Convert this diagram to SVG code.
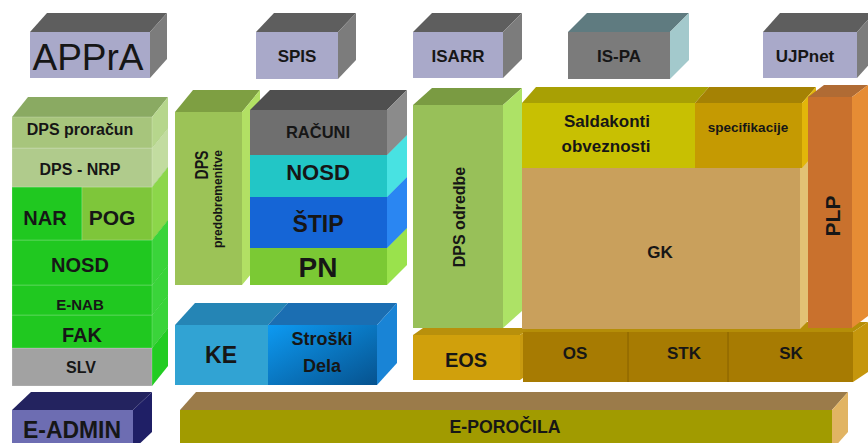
<svg xmlns="http://www.w3.org/2000/svg" width="868" height="443" viewBox="0 0 868 443">
<defs>
<style>
.t{font-family:"Liberation Sans",Arial,sans-serif;font-weight:bold;fill:#161616;text-anchor:middle}
.n{font-weight:normal}
.f{stroke:#ffffff;stroke-opacity:0.25;stroke-width:0.8}
</style>
<linearGradient id="gStr" x1="0" y1="0" x2="1" y2="1">
<stop offset="0" stop-color="#0d9af2"/>
<stop offset="1" stop-color="#06528e"/>
</linearGradient>
</defs>
<rect width="868" height="443" fill="#ffffff"/>

<!-- top row -->
<g id="appra">
<polygon points="30,32 47,13 167,13 150,32" fill="#5e5e5e"/>
<polygon points="150,32 167,13 167,59 150,78" fill="#7c7c7c"/>
<rect x="30" y="32" width="120" height="46" fill="#a9a9c9"/>
<text class="t n" x="88" y="70" font-size="37">APPrA</text>
</g>
<g id="spis">
<polygon points="256,32 274,13 356,13 338,32" fill="#5e5e5e"/>
<polygon points="338,32 356,13 356,60 338,79" fill="#7c7c7c"/>
<rect x="256" y="32" width="82" height="47" fill="#a9a9c9"/>
<text class="t" x="297" y="62" font-size="17">SPIS</text>
</g>
<g id="isarr">
<polygon points="413,32 432,13 522,13 503,32" fill="#5e5e5e"/>
<polygon points="503,32 522,13 522,59 503,78" fill="#7c7c7c"/>
<rect x="413" y="32" width="90" height="46" fill="#a9a9c9"/>
<text class="t" x="458" y="62" font-size="17">ISARR</text>
</g>
<g id="ispa">
<polygon points="568,32 587,13 689,13 670,32" fill="#5f7b80"/>
<polygon points="670,32 689,13 689,60 670,79" fill="#a3c9cc"/>
<rect x="568" y="32" width="102" height="47" fill="#7b7b7b"/>
<text class="t" x="619" y="62" font-size="17">IS-PA</text>
</g>
<g id="ujpnet">
<polygon points="763,32 780,13 874,13 857,32" fill="#5e5e5e"/>
<polygon points="857,32 874,13 874,59 857,78" fill="#7c7c7c"/>
<rect x="763" y="32" width="94" height="46" fill="#a9a9c9"/>
<text class="t" x="805" y="62" font-size="17">UJPnet</text>
</g>

<!-- left column, bottom to top -->
<g id="slv">
<polygon points="12,348 28,328 168,328 152,348" fill="#888888"/>
<polygon points="152,348 168,328 168,366 152,386" fill="#22cc22"/>
<rect class="f" x="12" y="348" width="140" height="38" fill="#a2a2a2"/>
<text class="t" x="81" y="373" font-size="16">SLV</text>
</g>
<g id="fak">
<polygon points="12,315 28,295 168,295 152,315" fill="#18a818"/>
<polygon points="152,315 168,295 168,328 152,348" fill="#3ad43a"/>
<rect class="f" x="12" y="315" width="140" height="33" fill="#20c820"/>
<text class="t" x="82" y="342" font-size="20">FAK</text>
</g>
<g id="enab">
<polygon points="12,285 28,265 168,265 152,285" fill="#18a818"/>
<polygon points="152,285 168,265 168,295 152,315" fill="#3ad43a"/>
<rect class="f" x="12" y="285" width="140" height="30" fill="#20c820"/>
<text class="t" x="80" y="310" font-size="15">E-NAB</text>
</g>
<g id="nosd-left">
<polygon points="12,240 28,220 168,220 152,240" fill="#18a818"/>
<polygon points="152,240 168,220 168,265 152,285" fill="#3ad43a"/>
<rect class="f" x="12" y="240" width="140" height="45" fill="#20c820"/>
<text class="t" x="80" y="272" font-size="20">NOSD</text>
</g>
<g id="nar-pog">
<polygon points="12,187 28,167 168,167 152,187" fill="#18a818"/>
<polygon points="152,187 168,167 168,220 152,240" fill="#8cd64a"/>
<rect class="f" x="12" y="187" width="70" height="53" fill="#20c820"/>
<rect class="f" x="82" y="187" width="70" height="53" fill="#7ec63a"/>
<text class="t" x="45" y="225" font-size="20">NAR</text>
<text class="t" x="112" y="225" font-size="21">POG</text>
</g>
<g id="dps-nrp">
<polygon points="12,148 28,128 168,128 152,148" fill="#98b474"/>
<polygon points="152,148 168,128 168,167 152,187" fill="#c2dca0"/>
<rect class="f" x="12" y="148" width="140" height="39" fill="#b0cb8c"/>
<text class="t" x="80" y="175" font-size="16">DPS - NRP</text>
</g>
<g id="dps-proracun">
<polygon points="12,117 28,97 168,97 152,117" fill="#8aaa62"/>
<polygon points="152,117 168,97 168,128 152,148" fill="#b6d68c"/>
<rect class="f" x="12" y="117" width="140" height="31" fill="#a7c57c"/>
<text class="t" x="80" y="135" font-size="16">DPS proračun</text>
</g>
<g id="e-admin">
<polygon points="12,410 31,392 152,392 133,410" fill="#23235f"/>
<polygon points="133,410 152,392 152,432 133,450" fill="#1f1f66"/>
<rect x="12" y="410" width="121" height="40" fill="#6d6db2"/>
<text class="t" x="72" y="438" font-size="24" textLength="98" lengthAdjust="spacingAndGlyphs">E-ADMIN</text>
</g>

<!-- centre column -->
<g id="dps-predobremenitve">
<polygon points="175,112 193,90 260,90 242,112" fill="#7e9f42"/>
<polygon points="242,112 260,90 260,263 242,285" fill="#b2e064"/>
<rect x="175" y="112" width="67" height="173" fill="#9cc357"/>
<text class="t" transform="translate(208,165) rotate(-90)" font-size="19" textLength="29" lengthAdjust="spacingAndGlyphs">DPS</text>
<text class="t" transform="translate(222,199) rotate(-90)" font-size="12.5" textLength="98" lengthAdjust="spacingAndGlyphs">predobremenitve</text>
</g>
<g id="pn">
<polygon points="250,248 270,228 407,228 387,248" fill="#5ea820"/>
<polygon points="387,248 407,228 407,265 387,285" fill="#9ae24c"/>
<rect x="250" y="248" width="137" height="37" fill="#7bc934"/>
<text class="t" x="318" y="277" font-size="28">PN</text>
</g>
<g id="stip">
<polygon points="250,197 270,177 407,177 387,197" fill="#0f4eb0"/>
<polygon points="387,197 407,177 407,228 387,248" fill="#2a86f2"/>
<rect x="250" y="197" width="137" height="51" fill="#1565d6"/>
<text class="t" x="318" y="232" font-size="23">ŠTIP</text>
</g>
<g id="nosd-centre">
<polygon points="250,155 270,135 407,135 387,155" fill="#1aa8a8"/>
<polygon points="387,155 407,135 407,177 387,197" fill="#48e2e2"/>
<rect x="250" y="155" width="137" height="42" fill="#22c6c6"/>
<text class="t" x="318" y="180" font-size="22">NOSD</text>
</g>
<g id="racuni">
<polygon points="250,110 270,90 407,90 387,110" fill="#4f4f4f"/>
<polygon points="387,110 407,90 407,135 387,155" fill="#8b8b8b"/>
<rect x="250" y="110" width="137" height="45" fill="#6f6f6f"/>
<text class="t" x="318" y="138" font-size="16.5">RAČUNI</text>
</g>
<g id="ke">
<polygon points="175,325 195,303 288,303 268,325" fill="#2585b5"/>
<rect x="175" y="325" width="93" height="60" fill="#31a3d3"/>
<text class="t" x="221" y="363" font-size="23" fill="#0c1a2a">KE</text>
</g>
<g id="stroski-dela">
<polygon points="268,325 288,303 397,303 377,325" fill="#1b6eb2"/>
<polygon points="377,325 397,303 397,363 377,385" fill="#1984d6"/>
<rect x="268" y="325" width="109" height="60" fill="url(#gStr)"/>
<text class="t" x="322" y="345" font-size="18">Stroški</text>
<text class="t" x="322" y="372" font-size="18">Dela</text>
</g>

<!-- right part -->
<g id="dps-odredbe">
<polygon points="413,105 432,88 522,88 503,105" fill="#7a9b42"/>
<polygon points="503,105 522,88 522,311 503,328" fill="#ade266"/>
<rect x="413" y="105" width="90" height="223" fill="#98c059"/>
<text class="t" transform="translate(465,217) rotate(-90)" font-size="16">DPS odredbe</text>
</g>
<g id="eos">
<polygon points="413,335 423,328 530,328 520,335" fill="#b8900c"/>
<polygon points="520,335 530,328 530,373 520,380" fill="#c89a10"/>
<rect x="413" y="335" width="107" height="45" fill="#d0a00c"/>
<text class="t" x="466" y="367" font-size="20">EOS</text>
</g>
<g id="os-stk-sk">
<polygon points="523,332 538,322 868,322 853,332" fill="#b58e08"/>
<polygon points="853,332 868,322 868,372 853,382" fill="#c5960c"/>
<rect x="523" y="332" width="330" height="50" fill="#a77b02"/>
<line x1="628" y1="332" x2="628" y2="382" stroke="#8c6600" stroke-width="1.2"/>
<line x1="728" y1="332" x2="728" y2="382" stroke="#8c6600" stroke-width="1.2"/>
<text class="t" x="575" y="359" font-size="17">OS</text>
<text class="t" x="684" y="359" font-size="17">STK</text>
<text class="t" x="791" y="359" font-size="17">SK</text>
</g>
<g id="gk">
<polygon points="800,168 808,160 808,321 800,329" fill="#e2c274"/>
<rect x="522" y="168" width="278" height="161" fill="#c9a05c"/>
<text class="t" x="660" y="258" font-size="17">GK</text>
</g>
<g id="saldakonti">
<polygon points="522,103 536,87 709,87 695,103" fill="#a8a004"/>
<rect x="522" y="103" width="173" height="65" fill="#c8c002"/>
<text class="t" x="607" y="127" font-size="17">Saldakonti</text>
<text class="t" x="606" y="152" font-size="17">obveznosti</text>
</g>
<g id="specifikacije">
<polygon points="695,103 709,87 816,87 802,103" fill="#a58204"/>
<polygon points="802,103 816,87 816,152 802,168" fill="#e2b60a"/>
<rect x="695" y="103" width="107" height="65" fill="#c59a02"/>
<text class="t" x="748" y="132" font-size="13.5">specifikacije</text>
</g>
<g id="plp">
<polygon points="808,97 824,85 868,85 852,97" fill="#b06b34"/>
<polygon points="852,97 868,85 868,316 852,328" fill="#e68c34"/>
<rect x="808" y="97" width="44" height="231" fill="#c9712d"/>
<text class="t" transform="translate(840,216) rotate(-90)" font-size="21">PLP</text>
</g>
<g id="e-porocila">
<polygon points="180,410 196,392 848,392 832,410" fill="#9b7b4a"/>
<polygon points="832,410 848,392 848,432 832,450" fill="#e1b463"/>
<rect x="180" y="410" width="652" height="40" fill="#a19b00"/>
<text class="t" x="505" y="433" font-size="18" textLength="111" lengthAdjust="spacingAndGlyphs">E-POROČILA</text>
</g>
</svg>
